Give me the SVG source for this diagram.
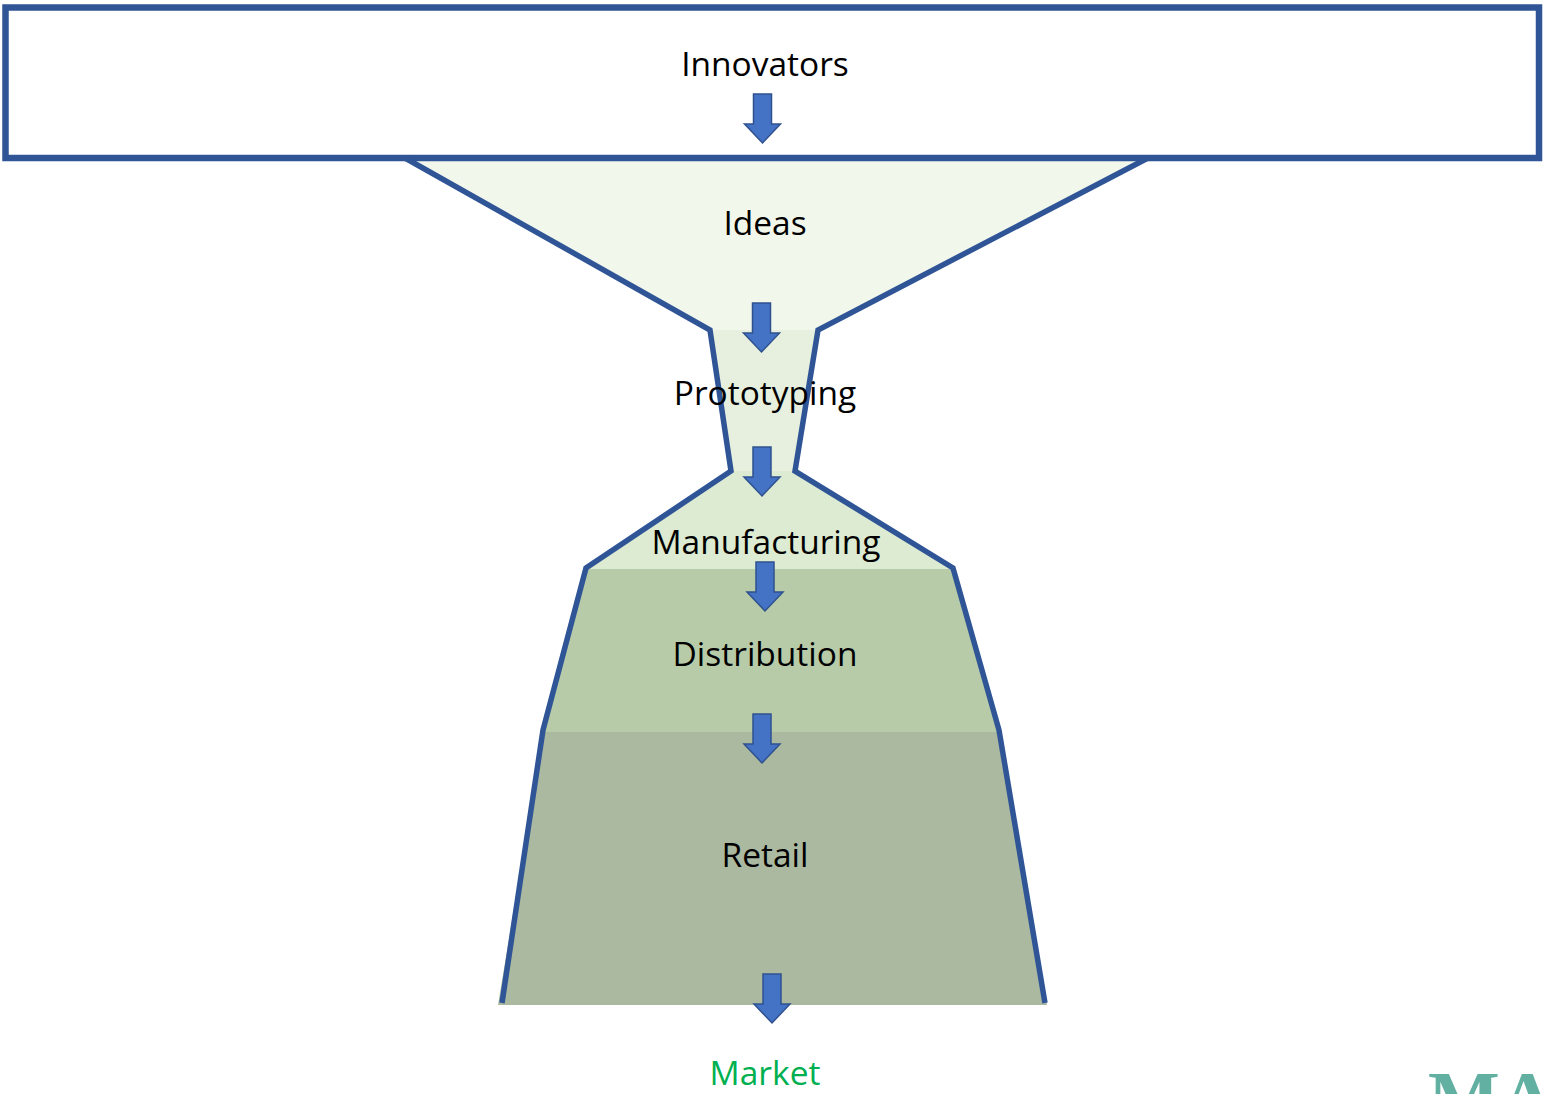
<svg xmlns="http://www.w3.org/2000/svg" xmlns:xlink="http://www.w3.org/1999/xlink" width="1543" height="1094" viewBox="0 0 1543 1094">
<style>
.lbl{font-family:"Open Sans","Liberation Sans",sans-serif;font-size:33.5px;fill:#000;text-anchor:middle}
.edge{fill:none;stroke:#2F5597;stroke-width:5.5;stroke-linejoin:miter}
.arr{fill:#4472C4;stroke:#2F528F;stroke-width:1.5}
</style>
<defs>
<path id="down" class="arr" d="M-9,0 H9 V30 H18 L0,49 L-18,30 H-9 Z"/>
</defs>
<rect width="1543" height="1094" fill="#fff"/>
<g id="funnel-fills">
<polygon id="band-ideas" points="405,158 1148,158 818,330 710,330" fill="#F2F7EC"/>
<polygon id="band-prototyping" points="710,330 818,330 795,471 731,471" fill="#E7F0DE"/>
<polygon id="band-manufacturing" points="731,471 795,471 953,569 586,569" fill="#DCEBD1"/>
<polygon id="band-distribution" points="586,569 953,569 999,732 543,732" fill="#B7CBA9"/>
<polygon id="band-retail" points="543,732 999,732 1047,1005 498,1005" fill="#ABB9A1"/>
</g>
<g id="node-innovators">
<rect x="5.5" y="7.5" width="1533.5" height="150.5" fill="#fff" stroke="#2F5597" stroke-width="6.5"/>
<text class="lbl" x="765" y="76">Innovators</text>
</g>
<g id="funnel-outline">
<polyline class="edge" points="405,158 710,330 731,471 586,568 543,730 502,1003"/>
<polyline class="edge" points="1148,158 818,330 795,471 953,568 999,730 1045,1003"/>
</g>
<g id="node-ideas"><text class="lbl" x="765" y="235">Ideas</text></g>
<g id="node-prototyping"><text class="lbl" x="765" y="405">Prototyping</text></g>
<g id="node-manufacturing"><text class="lbl" x="766" y="554">Manufacturing</text></g>
<g id="node-distribution"><text class="lbl" x="765" y="666">Distribution</text></g>
<g id="node-retail"><text class="lbl" x="765" y="867">Retail</text></g>
<g id="node-market"><text class="lbl" x="765" y="1085" style="fill:#00B050">Market</text></g>
<g id="connectors">
<use xlink:href="#down" x="762.5" y="94"/>
<use xlink:href="#down" x="761.5" y="303"/>
<use xlink:href="#down" x="762" y="447"/>
<use xlink:href="#down" x="765" y="562"/>
<use xlink:href="#down" x="762" y="714"/>
<use xlink:href="#down" x="772" y="974"/>
</g>
<g id="logo"><text x="1428" y="1124" style="font-family:'Liberation Serif',serif;font-weight:bold;font-size:76px;fill:#62B0A2">MA</text></g>
</svg>
